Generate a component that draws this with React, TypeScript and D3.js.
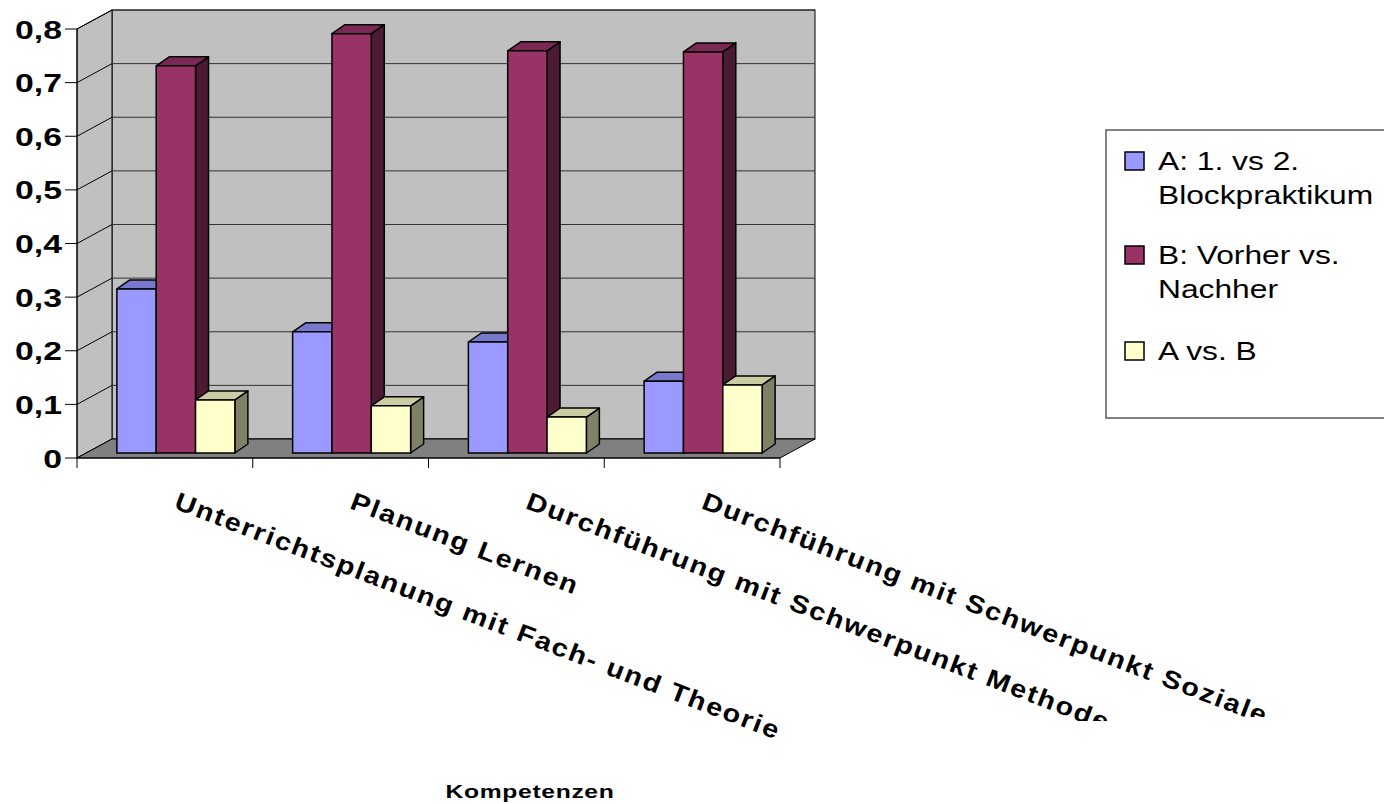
import * as d3 from "d3";

const categories = [
  "Unterrichtsplanung mit Fach- und Theorie",
  "Planung Lernen",
  "Durchführung mit Schwerpunkt Methode",
  "Durchführung mit Schwerpunkt Soziale",
];
const seriesNames = ["A: 1. vs 2. Blockpraktikum", "B: Vorher vs. Nachher", "A vs. B"];
const seriesA = [0.306, 0.226, 0.207, 0.134];
const seriesB = [0.722, 0.782, 0.75, 0.748];
const seriesAB = [0.099, 0.088, 0.067, 0.127];
const legendLines = [["A: 1. vs 2.", "Blockpraktikum"], ["B: Vorher vs.", "Nachher"], ["A vs. B"]];
const yTicks = [0, 0.1, 0.2, 0.3, 0.4, 0.5, 0.6, 0.7, 0.8];

const colors = [
  { front: "#9999FF", top: "#7878CC", side: "#4D4D80" },
  { front: "#993366", top: "#7A2952", side: "#4D1A33" },
  { front: "#FFFFCC", top: "#CCCCA3", side: "#808066" },
];

const FONT = "'Liberation Sans', Arial, sans-serif";
const WX = 35; // wall depth
const WY = -19;
const BX = 13; // bar depth
const BY = -9;

const locale = d3.formatLocale({ decimal: ",", thousands: ".", grouping: [3], currency: ["", "€"] });
const fmt = locale.format(".1~f");

export default function App() {
  const y = d3.scaleLinear().domain([0, 0.8]).range([458, 29]);
  const x = d3.scaleBand<string>().domain(categories).range([77, 780]);
  const inner = d3.scaleBand<string>().domain(seriesNames).range([0, 118]);
  const bw = inner.bandwidth();
  const groupPad = (x.bandwidth() - 118) / 2 + 11;
  const barLift = 5;

  const x0 = x.range()[0];
  const x1 = x.range()[1];
  const yTop = y(0.8);
  const yBase = y(0);

  const series = [seriesA, seriesB, seriesAB];

  // bottom edge where each rotated label gets cut off
  const labelClip = [745, 745, 721, 717];

  return (
    <svg
      width={1384}
      height={804}
      style={{ position: "absolute", left: 0, top: 0, display: "block", background: "#fff" }}
      fontFamily={FONT}
    >
      {/* walls */}
      <rect x={x0 + WX} y={yTop + WY} width={x1 - x0} height={yBase - yTop} fill="#C0C0C0" stroke="#000" strokeWidth={1} />
      <polygon
        points={`${x0},${yTop} ${x0 + WX},${yTop + WY} ${x0 + WX},${yBase + WY} ${x0},${yBase}`}
        fill="#C0C0C0"
        stroke="#000"
        strokeWidth={1}
      />
      {/* gridlines */}
      {yTicks.map((t) => (
        <g key={"g" + t}>
          <line x1={x0} y1={y(t)} x2={x0 + WX} y2={y(t) + WY} stroke="#000" strokeWidth={1} />
          <line x1={x0 + WX} y1={y(t) + WY} x2={x1 + WX} y2={y(t) + WY} stroke="#333" strokeWidth={1} />
        </g>
      ))}
      {/* floor */}
      <polygon
        points={`${x0},${yBase} ${x1},${yBase} ${x1 + WX},${yBase + WY} ${x0 + WX},${yBase + WY}`}
        fill="#808080"
        stroke="#000"
        strokeWidth={1}
      />

      {/* bars */}
      {categories.map((c, ci) => (
        <g key={c}>
          {seriesNames.map((s, si) => {
            const v = series[si][ci];
            const fx = (x(c) || 0) + groupPad + (inner(s) || 0);
            const ft = y(v) - barLift;
            const fb = yBase - barLift;
            const col = colors[si];
            return (
              <g key={s} stroke="#000" strokeWidth={1.5} strokeLinejoin="round">
                <polygon
                  points={`${fx + bw},${ft} ${fx + bw + BX},${ft + BY} ${fx + bw + BX},${fb + BY} ${fx + bw},${fb}`}
                  fill={col.side}
                />
                <polygon
                  points={`${fx},${ft} ${fx + bw},${ft} ${fx + bw + BX},${ft + BY} ${fx + BX},${ft + BY}`}
                  fill={col.top}
                />
                <rect x={fx} y={ft} width={bw} height={fb - ft} fill={col.front} />
              </g>
            );
          })}
        </g>
      ))}

      {/* y axis */}
      <line x1={x0} y1={yTop} x2={x0} y2={yBase} stroke="#000" strokeWidth={1} />
      {yTicks.map((t) => (
        <g key={"t" + t}>
          <line x1={x0 - 12} y1={y(t)} x2={x0} y2={y(t)} stroke="#000" strokeWidth={1} />
          <text
            transform={`translate(${x0 - 15},${y(t) + 9.5}) scale(1.35,1)`}
            textAnchor="end"
            fontSize={25}
            fontWeight="bold"
            fill="#000"
          >
            {fmt(t)}
          </text>
        </g>
      ))}

      {/* x axis */}
      <line x1={x0} y1={yBase} x2={x1} y2={yBase} stroke="#000" strokeWidth={1} />
      {[...categories.map((c) => x(c) || 0), x1].map((p, i) => (
        <line key={"xt" + i} x1={p} y1={yBase} x2={p} y2={yBase + 10} stroke="#000" strokeWidth={1} />
      ))}
      <defs>
        {categories.map((c, i) => (
          <clipPath key={"cp" + i} id={`lab-clip-${i}`} clipPathUnits="userSpaceOnUse">
            <rect x={0} y={0} width={1384} height={labelClip[i]} />
          </clipPath>
        ))}
      </defs>
      {categories.map((c, i) => (
        <g key={"l" + c} clipPath={`url(#lab-clip-${i})`}>
          <text
            transform={`translate(${(x(c) || 0) + x.bandwidth() / 2 + 8},508) rotate(21) scale(1.15,1)`}
            fontSize={25}
            fontWeight="bold"
            letterSpacing={1.6}
            fill="#000"
          >
            {c}
          </text>
        </g>
      ))}

      <text
        transform="translate(530,798) scale(1.3,1)"
        textAnchor="middle"
        fontSize={19}
        fontWeight="bold"
        letterSpacing={0.5}
        fill="#000"
      >
        Kompetenzen
      </text>

      {/* legend */}
      <rect x={1106} y={130} width={300} height={288} fill="#fff" stroke="#5a5a5a" strokeWidth={1.5} />
      {legendLines.map((lines, i) => {
        const base = [170, 264, 360][i];
        return (
          <g key={"lg" + i}>
            <rect x={1125} y={base - 18} width={19} height={18} fill={colors[i].front} stroke="#000" strokeWidth={1.5} />
            {lines.map((ln, j) => (
              <text key={j} transform={`translate(1158,${base + j * 34}) scale(1.27,1)`} fontSize={25} fill="#000">
                {ln}
              </text>
            ))}
          </g>
        );
      })}
    </svg>
  );
}
